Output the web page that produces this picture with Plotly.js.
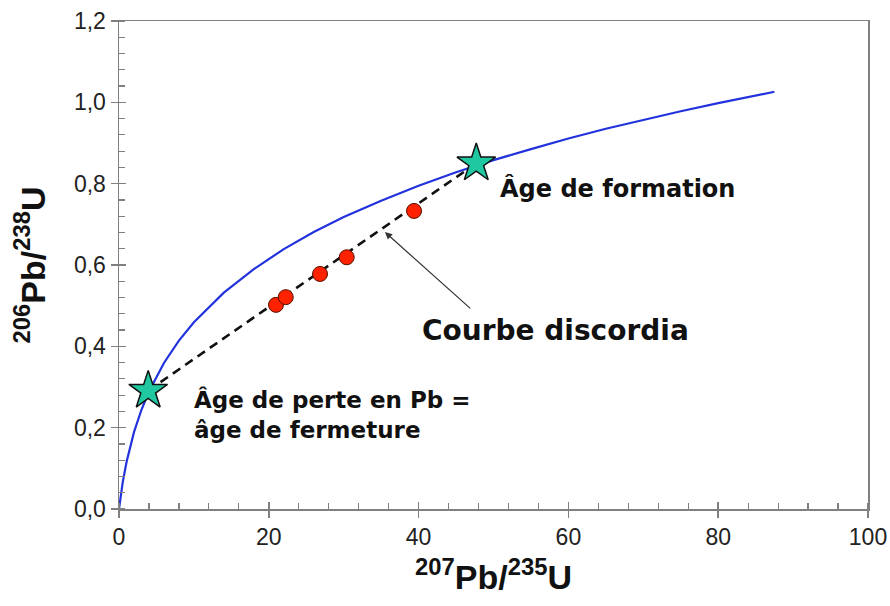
<!DOCTYPE html>
<html>
<head>
<meta charset="utf-8">
<script src="https://cdn.plot.ly/plotly-3.0.1.min.js"></script>
<style>html,body{margin:0;padding:0;background:#fff;}#chart{width:890px;height:606px;}</style>
</head>
<body>
<div id="chart"></div>
<script>
// Concordia curve (207Pb/235U, 206Pb/238U)
const concordiaX = [0, 0.5, 1, 2, 3, 4, 6, 8, 10, 14, 18, 22, 26, 30, 35, 40, 45, 50, 55, 60, 65, 70, 75, 80, 87.5];
const concordiaY = [0, 0.066, 0.115, 0.189, 0.244, 0.289, 0.359, 0.414, 0.459, 0.532, 0.590, 0.639, 0.681, 0.718, 0.758, 0.795, 0.828, 0.858, 0.885, 0.911, 0.935, 0.957, 0.978, 0.998, 1.026];
// Intercepts (stars)
const starX = [3.9, 47.7];
const starY = [0.291, 0.850];
// Analysed zircons (red dots)
const pointX = [20.96, 22.26, 26.84, 30.40, 39.39];
const pointY = [0.502, 0.521, 0.578, 0.619, 0.733];
// Tick labels
const xTicks = [0, 20, 40, 60, 80, 100];
const yTicks = [0, 0.2, 0.4, 0.6, 0.8, 1.0, 1.2];

const txtFont = {family: 'DejaVu Sans, sans-serif', size: 23, color: '#111'};

const traces = [
  {x: concordiaX, y: concordiaY, mode: 'lines', line: {color: '#2233DD', width: 2.2}, hoverinfo: 'skip', showlegend: false},
  {x: starX, y: starY, mode: 'lines', line: {color: '#111', width: 2.6, dash: '9px,6px'}, showlegend: false},
  {x: pointX, y: pointY, mode: 'markers', marker: {color: '#FF2200', size: 15, line: {color: '#551100', width: 1}}, showlegend: false},
  {x: starX, y: starY, mode: 'markers', marker: {symbol: 'star', color: '#1FC8A0', size: 29, line: {color: '#111', width: 1.5}}, showlegend: false},
  // invisible trace carrying the overlay axes for inside major ticks
  {x: [0], y: [0], xaxis: 'x2', yaxis: 'y2', mode: 'markers', marker: {opacity: 0}, hoverinfo: 'skip', showlegend: false}
];

const layout = {
  width: 890, height: 606,
  margin: {l: 119, r: 22, t: 21, b: 97},
  paper_bgcolor: '#fff', plot_bgcolor: '#fff',
  separators: ', ',
  showlegend: false,
  xaxis: {
    range: [0, 100], tickvals: xTicks, ticktext: xTicks.map(String),
    showgrid: false, zeroline: false, showline: true, mirror: true, linecolor: '#808080', linewidth: 1.5,
    ticks: 'outside', ticklen: 7, tickcolor: '#808080', tickwidth: 1.5,
    minor: {dtick: 4, ticks: 'inside', ticklen: 6, tickcolor: '#808080', tickwidth: 1.2, showgrid: false},
    tickfont: {family: 'Liberation Sans, Arial, sans-serif', size: 23, color: '#222'},
    title: {text: '<b><sup>207</sup>Pb/<sup>235</sup>U</b>', font: {family: 'Liberation Sans, Arial, sans-serif', size: 34, color: '#111'}, standoff: 16}
  },
  yaxis: {
    range: [0, 1.2], tickvals: yTicks, tickformat: '.1f',
    showgrid: false, zeroline: false, showline: true, mirror: true, linecolor: '#808080', linewidth: 1.5,
    ticks: 'outside', ticklen: 7, tickcolor: '#808080', tickwidth: 1.5,
    minor: {dtick: 0.04, ticks: 'inside', ticklen: 6, tickcolor: '#808080', tickwidth: 1.2, showgrid: false},
    tickfont: {family: 'Liberation Sans, Arial, sans-serif', size: 23, color: '#222'},
    title: {text: '<b><sup>206</sup>Pb/<sup>238</sup>U</b>', font: {family: 'Liberation Sans, Arial, sans-serif', size: 34, color: '#111'}, standoff: 18}
  },
  xaxis2: {overlaying: 'x', anchor: 'y2', range: [0, 100], tickvals: xTicks, showticklabels: false, showgrid: false, zeroline: false, showline: false, ticks: 'inside', ticklen: 7, tickcolor: '#808080', tickwidth: 1.5},
  yaxis2: {overlaying: 'y', anchor: 'x2', range: [0, 1.2], tickvals: yTicks, showticklabels: false, showgrid: false, zeroline: false, showline: false, ticks: 'inside', ticklen: 7, tickcolor: '#808080', tickwidth: 1.5},
  annotations: [
    {x: 50.6, y: 0.789, xref: 'x', yref: 'y', text: '<b>Âge de formation</b>', showarrow: false, xanchor: 'left', yanchor: 'middle', font: {family: 'DejaVu Sans, sans-serif', size: 24, color: '#111'}},
    {x: 9.75, y: 0.232, xref: 'x', yref: 'y', text: '<b>Âge de perte en Pb =<br>âge de fermeture</b>', showarrow: false, xanchor: 'left', yanchor: 'middle', align: 'left', font: txtFont},
    {x: 40.2, y: 0.44, xref: 'x', yref: 'y', text: '<b>Courbe discordia</b>', showarrow: false, xanchor: 'left', yanchor: 'middle', font: {family: 'DejaVu Sans, sans-serif', size: 28, color: '#111'}},
    {x: 35.5, y: 0.681, ax: 47.1, ay: 0.490, xref: 'x', yref: 'y', axref: 'x', ayref: 'y', text: '', showarrow: true, arrowhead: 2, arrowsize: 1.2, arrowwidth: 1.2, arrowcolor: '#333'}
  ]
};

Plotly.newPlot('chart', traces, layout, {displayModeBar: false, staticPlot: true});
</script>
</body>
</html>
